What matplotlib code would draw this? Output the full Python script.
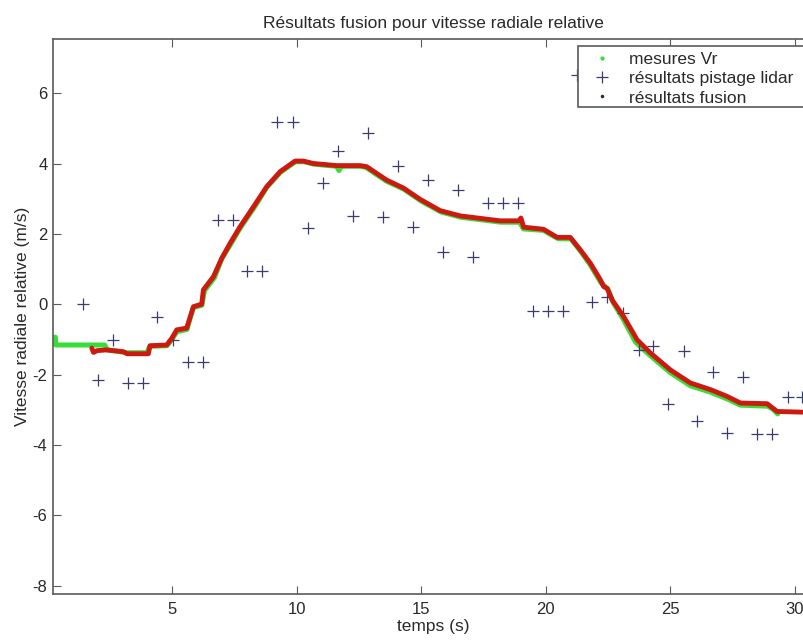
import matplotlib
matplotlib.use("Agg")
import matplotlib.pyplot as plt
from matplotlib.lines import Line2D
from matplotlib.patches import Rectangle

plt.rcParams['font.family'] = ['Liberation Sans', 'DejaVu Sans']
plt.rcParams['axes.unicode_minus'] = False

# Fusion results (dense estimate, drawn as a thick line)
fusion_t = [1.78, 1.85, 2.0, 2.37, 3.04, 3.2, 4.05, 4.12, 4.79, 4.99, 5.19, 5.59, 5.86, 6.19, 6.26,
            6.66, 7.0, 7.33, 7.73, 8.27, 8.80, 9.34, 9.94, 10.27, 10.67, 11.61, 12.55, 12.81, 13.61,
            14.29, 14.96, 15.76, 16.57, 17.37, 18.17, 18.91, 19.0, 19.11, 19.91, 20.45, 20.98, 21.39,
            21.79, 22.19, 22.32, 22.46, 22.66, 23.12, 23.66, 24.20, 25.0, 25.80, 26.61, 27.27, 27.81,
            28.88, 29.28, 30.29]
fusion_v = [-1.25, -1.37, -1.32, -1.30, -1.35, -1.41, -1.41, -1.18, -1.16, -0.97, -0.73, -0.68, -0.07,
            0.0, 0.41, 0.78, 1.31, 1.73, 2.2, 2.77, 3.34, 3.77, 4.07, 4.07, 4.0, 3.94, 3.94, 3.91, 3.53,
            3.30, 2.98, 2.66, 2.51, 2.44, 2.37, 2.37, 2.45, 2.19, 2.13, 1.90, 1.90, 1.54, 1.16, 0.69,
            0.50, 0.45, 0.12, -0.35, -1.01, -1.39, -1.87, -2.24, -2.43, -2.62, -2.81, -2.83, -3.05, -3.07]

# Radial velocity measurements (green)
mes_t = [0.22, 0.32, 0.34, 2.3, 2.4, 3.2, 4.0, 4.1, 4.8, 5.0, 5.2, 5.6, 5.85, 6.2, 6.3, 6.7, 7.0, 7.35,
         7.75, 8.3, 8.8, 9.35, 9.95, 10.3, 10.7, 11.6, 11.7, 11.8, 12.6, 12.8, 13.6, 14.3, 15.0, 15.8,
         16.6, 17.4, 18.2, 18.95, 19.1, 19.9, 20.5, 21.0, 21.4, 21.8, 22.2, 22.5, 22.7, 23.1, 23.6,
         24.2, 25.0, 25.8, 26.6, 27.3, 27.8, 28.9, 29.1, 29.3]
mes_v = [-0.94, -0.94, -1.16, -1.16, -1.3, -1.38, -1.38, -1.2, -1.18, -1.0, -0.78, -0.72, -0.1, -0.03,
         0.38, 0.75, 1.3, 1.7, 2.18, 2.75, 3.32, 3.75, 4.05, 4.05, 3.98, 3.92, 3.8, 3.92, 3.92, 3.88,
         3.5, 3.27, 2.93, 2.62, 2.47, 2.4, 2.33, 2.33, 2.14, 2.1, 1.86, 1.86, 1.5, 1.1, 0.62, 0.42,
         0.05, -0.42, -1.08, -1.47, -1.95, -2.32, -2.5, -2.7, -2.87, -2.9, -2.98, -3.12]

# Lidar tracking results
lidar_t = [1.44, 2.04, 2.64, 3.25, 3.85, 4.41, 5.05, 5.65, 6.26, 6.86, 7.44, 8.02, 8.63, 9.20, 9.87,
           10.47, 11.05, 11.68, 12.26, 12.86, 13.46, 14.06, 14.65, 15.27, 15.87, 16.47, 17.08, 17.66,
           18.27, 18.87, 19.47, 20.07, 20.67, 21.27, 21.86, 22.46, 23.10, 23.72, 24.30, 24.91, 25.53,
           26.07, 26.69, 27.28, 27.90, 28.48, 29.08, 29.71, 30.29]
lidar_v = [0.0, -2.15, -1.01, -2.24, -2.24, -0.37, -1.01, -1.63, -1.63, 2.40, 2.40, 0.95, 0.95, 5.19,
           5.19, 2.16, 3.45, 4.36, 2.51, 4.86, 2.49, 3.93, 2.19, 3.53, 1.47, 3.25, 1.35, 2.89, 2.89,
           2.89, -0.19, -0.19, -0.19, 6.52, 0.06, 0.20, -0.26, -1.30, -1.18, -2.83, -1.32, -3.31,
           -1.94, -3.66, -2.08, -3.68, -3.68, -2.65, -2.65]

xticks = [5, 10, 15, 20, 25, 30]
yticks = [-8, -6, -4, -2, 0, 2, 4, 6]

green = '#38dd38'
red = '#cc1a10'
navy = '#3a3d6e'
axcol = '#5a5a5a'
txtcol = '#2a2a2a'
fs = 12.5

W, H = 804, 640
fig = plt.figure(figsize=(W / 100, H / 100), dpi=100)
ax = fig.add_axes([53 / W, 1 - 594 / H, (813 - 53) / W, (594 - 39) / H])

ax.plot(mes_t, mes_v, color=green, lw=3.6, solid_capstyle='round', zorder=2)
ax.plot(lidar_t, lidar_v, linestyle='none', marker='+', ms=9, mew=0.9, color=navy, zorder=3)
ax.plot(fusion_t, fusion_v, color=red, lw=3.5, solid_capstyle='round', solid_joinstyle='round', zorder=4)

ax.set_xlim(0.225, 30.72)
ax.set_ylim(-8.24, 7.54)
ax.set_xticks(xticks)
ax.set_yticks(yticks)
ax.tick_params(direction='in', top=True, right=True, length=6, width=0.8, color=axcol,
               labelsize=12, labelcolor=txtcol)
ax.tick_params(axis='y', pad=4)
ax.tick_params(axis='x', pad=6)
for s in ax.spines.values():
    s.set_color(axcol)
    s.set_linewidth(1.2)

ax.set_title('Résultats fusion pour vitesse radiale relative', fontsize=fs, color=txtcol, pad=8)
ax.set_xlabel('temps (s)', fontsize=fs, color=txtcol, labelpad=1)
ax.set_ylabel('Vitesse radiale relative (m/s)', fontsize=fs, color=txtcol, labelpad=2)

# legend frame (extends past the image edge like the reference)
frame = Rectangle((578 / W, 1 - 107 / H), (812 - 578) / W, (107 - 46) / H,
                  transform=fig.transFigure, facecolor='white', edgecolor=axcol, lw=1.2, zorder=5)
fig.add_artist(frame)

handles = [
    Line2D([], [], linestyle='none', marker='.', ms=4, color=green),
    Line2D([], [], linestyle='none', marker='+', ms=9, mew=0.9, color=navy),
    Line2D([], [], linestyle='none', marker='.', ms=3, color='#402020'),
]
labels = ['mesures Vr', 'résultats pistage lidar', 'résultats fusion']
leg = fig.legend(handles, labels, loc='upper left', bbox_to_anchor=(578 / W, 1 - 50 / H),
                 fontsize=fs, frameon=False, borderpad=0.1, labelspacing=0.24,
                 handlelength=2.6, handletextpad=0.25, borderaxespad=0)
leg.set_zorder(6)
for t in leg.get_texts():
    t.set_color(txtcol)

fig.savefig('out.png', dpi=100)
